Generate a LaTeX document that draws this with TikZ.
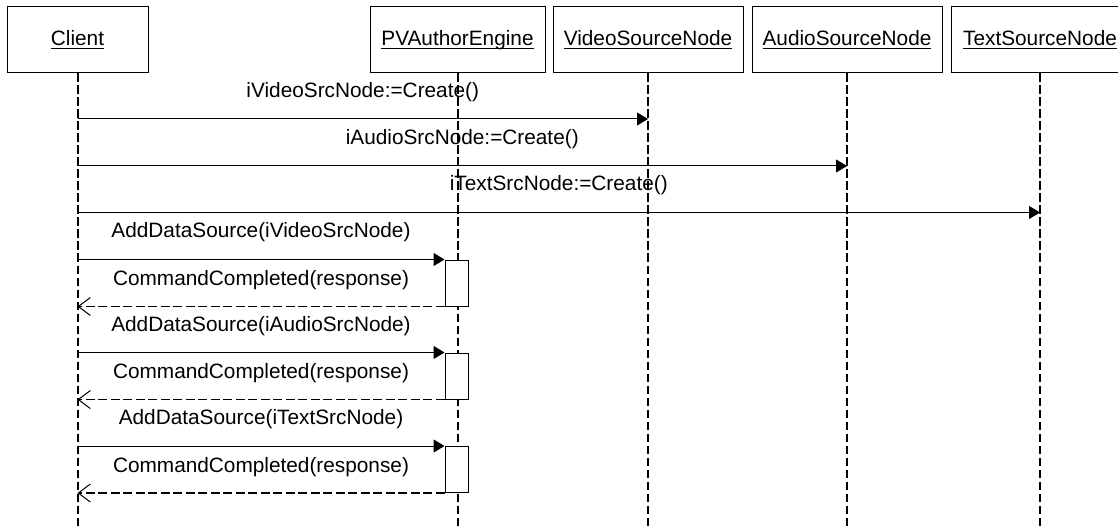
\documentclass[tikz,border=0pt]{standalone}
\usepackage{fontspec}
\setmainfont{Liberation Sans}
\usetikzlibrary{arrows.meta,calc}
\newcommand\ulx[1]{\setbox0\hbox{#1}\rlap{\rule[-2.8pt]{\wd0}{1pt}}\box0}
\begin{document}
\begin{tikzpicture}[x=1pt,y=-1pt,
  every node/.style={font=\fontsize{20.8}{24}\selectfont, inner sep=0pt},
  head/.style={draw, line width=1pt, minimum height=66pt, fill=white, text height=15pt, text depth=3pt},
  life/.style={line width=2pt, dash pattern=on 8.5pt off 3.5pt},
  msg/.style={line width=1pt, -{Triangle[length=11pt,width=13pt]}},
  ret/.style={line width=1.3pt, dash pattern=on 9pt off 3.5pt, -{Straight Barb[length=12pt,width=18pt,line width=1pt]}},
  act/.style={draw, line width=1pt, fill=white, minimum width=23pt, minimum height=46pt},
  lbl/.style={anchor=base}]
\useasboundingbox (0,0) rectangle (1118,529);
% lifeline heads
\node[head, minimum width=141pt] (client) at (77.5,40) {\ulx{Client}};
\node[head, minimum width=175pt] (pv) at (457.5,40) {\ulx{PVAuthorEngine}};
\node[head, minimum width=190pt] (video) at (648,40) {\ulx{VideoSourceNode}};
\node[head, minimum width=190pt] (audio) at (847,40) {\ulx{AudioSourceNode}};
\node[head, minimum width=178pt] (text) at (1040,40) {\ulx{TextSourceNode}};
% lifelines
\foreach \n in {client,pv,video,audio,text}{
  \coordinate (\n-end) at (\n.south |- 0,529);
  \draw[life] (\n.south) -- (\n-end);
}
% activation boxes
\node[act] (a1) at (456.5,283) {};
\node[act] (a2) at (456.5,376) {};
\node[act] (a3) at (456.5,469.5) {};
% create messages
\coordinate (m1s) at (client.south |- 0,119);
\coordinate (m1e) at (video.south |- 0,119);
\coordinate (m2s) at (client.south |- 0,166);
\coordinate (m2e) at (audio.south |- 0,166);
\coordinate (m3s) at (client.south |- 0,212.5);
\coordinate (m3e) at (text.south |- 0,212.5);
\draw[msg] (m1s) -- (m1e);
\draw[msg] (m2s) -- (m2e);
\draw[msg] (m3s) -- (m3e);
\node[lbl] (l1) at (362.75,97.5) {iVideoSrcNode:=Create()};
\node[lbl] (l2) at (462.25,144.5) {iAudioSrcNode:=Create()};
\node[lbl] (l3) at (558.75,191) {iTextSrcNode:=Create()};
% AddDataSource calls and returns
\foreach \a/\txt in {a1/iVideoSrcNode,a2/iAudioSrcNode,a3/iTextSrcNode}{
  \coordinate (\a-cs) at (client.south |- \a.north west);
  \coordinate (\a-ce) at (client.south |- \a.south west);
  \draw[msg] (\a-cs) -- (\a.north west);
  \draw[ret] (\a.south west) -- (\a-ce);
  \node[lbl] (\a-call) at ([yshift=21.5pt]$(\a-cs)!0.5!(\a.north west)$) {AddDataSource(\txt)};
  \node[lbl] (\a-resp) at ([yshift=21pt]$(\a-ce)!0.5!(\a.south west)$) {CommandCompleted(response)};
}
\end{tikzpicture}
\end{document}
